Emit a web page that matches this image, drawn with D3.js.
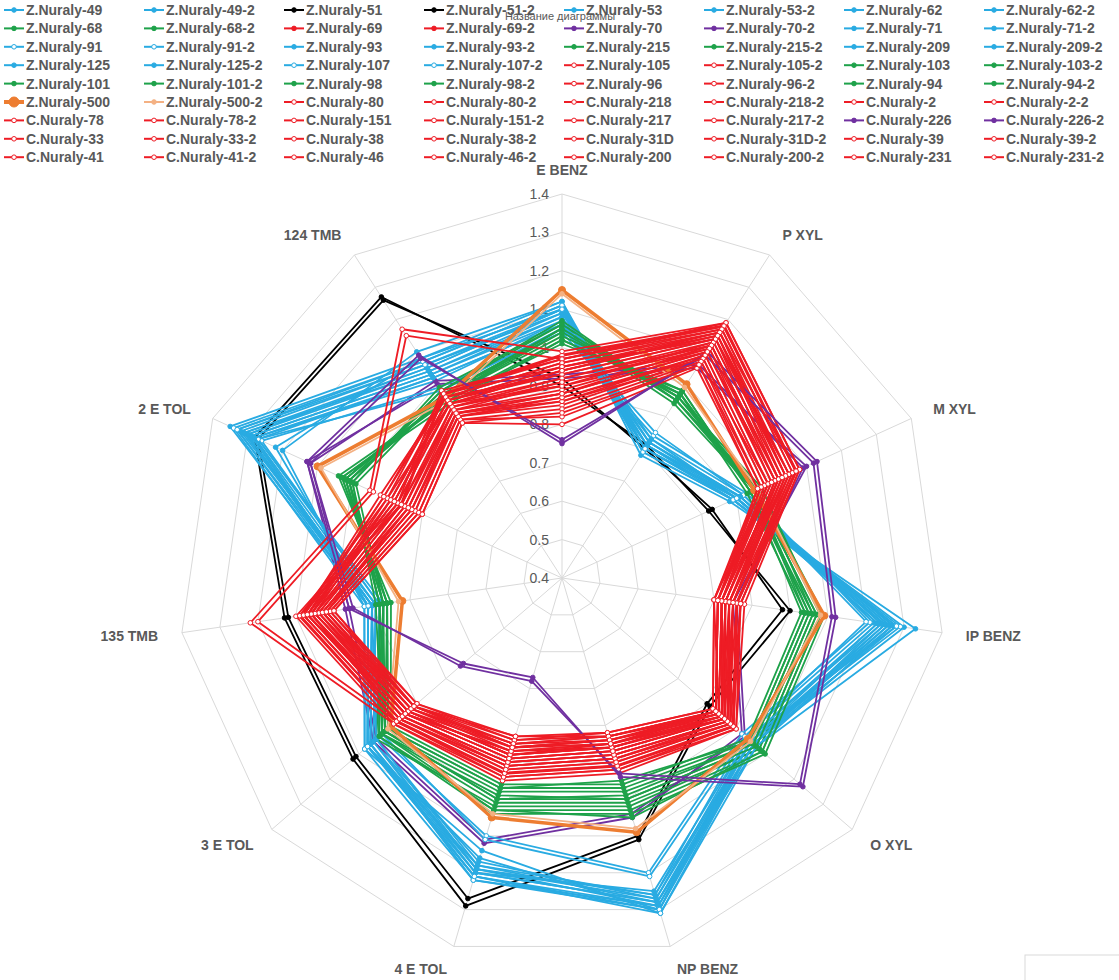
<!DOCTYPE html>
<html>
<head>
<meta charset="utf-8">
<script src="https://cdn.jsdelivr.net/npm/d3@7"></script>
<style>
body{margin:0;background:#fff;}
text{font-family:"Liberation Sans",Arial,sans-serif;}
</style>
</head>
<body>
<svg id="chart" width="1119" height="980"></svg>
<script>
// axes, clockwise from top
var axes = ["E BENZ","P XYL","M XYL","IP BENZ","O XYL","NP BENZ","4 E TOL","3 E TOL","135 TMB","2 E TOL","124 TMB"];
var ticks = [0.4,0.5,0.6,0.7,0.8,0.9,1.0,1.1,1.2,1.3,1.4];

var seriesNames = [
 "Z.Nuraly-49","Z.Nuraly-49-2","Z.Nuraly-51","Z.Nuraly-51-2","Z.Nuraly-53","Z.Nuraly-53-2","Z.Nuraly-62","Z.Nuraly-62-2",
 "Z.Nuraly-68","Z.Nuraly-68-2","Z.Nuraly-69","Z.Nuraly-69-2","Z.Nuraly-70","Z.Nuraly-70-2","Z.Nuraly-71","Z.Nuraly-71-2",
 "Z.Nuraly-91","Z.Nuraly-91-2","Z.Nuraly-93","Z.Nuraly-93-2","Z.Nuraly-215","Z.Nuraly-215-2","Z.Nuraly-209","Z.Nuraly-209-2",
 "Z.Nuraly-125","Z.Nuraly-125-2","Z.Nuraly-107","Z.Nuraly-107-2","Z.Nuraly-105","Z.Nuraly-105-2","Z.Nuraly-103","Z.Nuraly-103-2",
 "Z.Nuraly-101","Z.Nuraly-101-2","Z.Nuraly-98","Z.Nuraly-98-2","Z.Nuraly-96","Z.Nuraly-96-2","Z.Nuraly-94","Z.Nuraly-94-2",
 "Z.Nuraly-500","Z.Nuraly-500-2","C.Nuraly-80","C.Nuraly-80-2","C.Nuraly-218","C.Nuraly-218-2","C.Nuraly-2","C.Nuraly-2-2",
 "C.Nuraly-78","C.Nuraly-78-2","C.Nuraly-151","C.Nuraly-151-2","C.Nuraly-217","C.Nuraly-217-2","C.Nuraly-226","C.Nuraly-226-2",
 "C.Nuraly-33","C.Nuraly-33-2","C.Nuraly-38","C.Nuraly-38-2","C.Nuraly-31D","C.Nuraly-31D-2","C.Nuraly-39","C.Nuraly-39-2",
 "C.Nuraly-41","C.Nuraly-41-2","C.Nuraly-46","C.Nuraly-46-2","C.Nuraly-200","C.Nuraly-200-2","C.Nuraly-231","C.Nuraly-231-2"
];

// colour group per series (b blue, k black, g green, r red, p purple, o orange, l light orange)
var seriesGroup = [
 "b","b","k","k","b","b","b","b",
 "g","g","r","r","p","p","b","b",
 "b","b","b","b","g","g","b","b",
 "b","b","b","b","r","r","g","g",
 "g","g","g","g","r","r","g","g",
 "o","l","r","r","r","r","r","r",
 "r","r","r","r","r","r","p","p",
 "r","r","r","r","r","r","r","r",
 "r","r","r","r","r","r","r","r"
];

var values = [
 [1.10,0.82,0.90,1.25,1.05,1.28,1.20,1.06,0.90,1.30,1.05],
 [1.09,0.81,0.91,1.24,1.06,1.29,1.19,1.05,0.89,1.31,1.04],
 [0.90,0.81,0.82,1.00,0.91,1.11,1.29,1.12,1.13,1.28,1.27],
 [0.92,0.80,0.83,0.98,0.90,1.10,1.27,1.11,1.12,1.27,1.26],
 [1.12,0.80,0.89,1.28,1.04,1.30,1.21,1.07,0.91,1.35,1.08],
 [1.11,0.81,0.90,1.27,1.05,1.29,1.22,1.06,0.90,1.33,1.07],
 [1.06,0.83,0.92,1.22,1.03,1.26,1.18,1.04,0.88,1.27,1.02],
 [1.07,0.82,0.91,1.23,1.04,1.27,1.17,1.05,0.89,1.28,1.01],

 [1.05,0.96,0.95,1.07,1.08,1.01,1.01,1.02,0.87,1.02,0.97],
 [1.04,0.97,0.94,1.06,1.07,1.00,1.00,1.01,0.86,1.01,0.96],
 [0.88,1.12,1.02,0.82,0.95,0.85,0.88,0.93,1.05,0.84,0.92],
 [0.90,1.10,1.01,0.83,0.96,0.86,0.87,0.94,1.04,0.85,0.93],
 [0.92,1.05,1.10,0.85,1.02,1.05,1.12,1.05,0.97,1.13,1.00],
 [0.93,1.06,1.09,0.86,1.03,1.04,1.11,1.04,0.96,1.12,1.01],
 [1.12,0.78,0.88,1.33,1.07,1.31,1.14,1.08,0.92,1.20,1.10],
 [1.10,0.79,0.89,1.30,1.06,1.30,1.16,1.07,0.91,1.22,1.08],

 [1.04,0.84,0.93,1.21,1.02,1.20,1.10,1.03,0.88,1.26,0.99],
 [1.05,0.85,0.92,1.20,1.03,1.21,1.11,1.02,0.87,1.27,0.98],
 [1.08,0.80,0.90,1.26,1.05,1.27,1.19,1.06,0.90,1.29,1.03],
 [1.08,0.81,0.89,1.25,1.06,1.28,1.18,1.07,0.91,1.30,1.04],
 [1.06,0.95,0.96,1.08,1.09,1.03,1.03,1.03,0.88,1.00,0.98],
 [1.05,0.94,0.95,1.07,1.08,1.02,1.02,1.04,0.87,0.99,0.97],
 [1.09,0.82,0.91,1.24,1.04,1.25,1.20,1.05,0.89,1.32,1.06],
 [1.10,0.83,0.90,1.23,1.05,1.26,1.19,1.04,0.90,1.31,1.05],

 [1.07,0.80,0.90,1.26,1.06,1.29,1.21,1.06,0.90,1.29,1.03],
 [1.06,0.81,0.91,1.27,1.07,1.28,1.20,1.07,0.91,1.28,1.02],
 [1.11,0.79,0.89,1.29,1.05,1.30,1.22,1.08,0.92,1.34,1.07],
 [1.10,0.80,0.90,1.28,1.06,1.31,1.21,1.07,0.91,1.33,1.06],
 [0.95,1.15,1.05,0.84,0.97,0.88,0.90,0.95,1.07,0.88,0.95],
 [0.94,1.16,1.04,0.85,0.98,0.89,0.91,0.96,1.06,0.87,0.94],
 [1.02,0.97,0.93,1.04,1.05,0.97,0.97,1.00,0.86,1.03,0.95],
 [1.03,0.98,0.94,1.05,1.06,0.98,0.98,1.01,0.87,1.02,0.96],

 [1.07,0.95,0.96,1.09,1.10,1.04,1.04,1.03,0.88,1.01,0.98],
 [1.06,0.96,0.97,1.08,1.09,1.05,1.03,1.02,0.89,1.00,0.99],
 [1.01,0.98,0.94,1.03,1.04,0.96,0.96,0.99,0.85,1.04,0.95],
 [1.02,0.97,0.95,1.04,1.05,0.95,0.97,1.00,0.86,1.03,0.94],
 [0.85,1.08,0.98,0.81,0.93,0.83,0.85,0.91,1.02,0.82,0.90],
 [0.86,1.07,0.99,0.80,0.94,0.84,0.86,0.92,1.03,0.83,0.91],
 [1.04,0.96,0.96,1.06,1.07,1.00,0.99,1.02,0.87,1.02,0.97],
 [1.05,0.95,0.95,1.05,1.06,0.99,1.00,1.01,0.88,1.01,0.96],

 [1.15,1.00,0.95,1.09,1.04,1.09,1.05,0.99,0.82,1.10,0.96],
 [1.14,0.99,0.96,1.08,1.05,1.08,1.04,1.00,0.83,1.09,0.95],
 [0.98,1.18,1.07,0.86,0.99,0.91,0.93,0.97,1.09,0.86,0.97],
 [0.97,1.19,1.08,0.87,1.00,0.92,0.94,0.98,1.10,0.87,0.98],
 [0.92,1.13,1.03,0.83,0.96,0.87,0.89,0.94,1.06,0.90,0.94],
 [0.93,1.14,1.02,0.84,0.95,0.86,0.88,0.93,1.05,0.89,0.95],
 [0.80,1.05,0.96,0.80,0.92,0.82,0.83,0.90,1.00,0.80,0.88],
 [0.82,1.06,0.97,0.81,0.93,0.83,0.84,0.91,1.01,0.81,0.89],

 [0.96,1.17,1.06,0.85,0.98,0.90,0.92,0.96,1.08,0.92,0.96],
 [0.95,1.16,1.05,0.86,0.97,0.89,0.91,0.95,1.07,0.91,0.97],
 [0.89,1.11,1.00,0.82,0.94,0.85,0.87,0.92,1.04,0.85,0.92],
 [0.88,1.10,1.01,0.83,0.95,0.84,0.86,0.93,1.03,0.84,0.91],
 [0.99,1.19,1.08,0.88,1.00,0.93,0.95,0.98,1.22,0.95,1.17],
 [0.97,1.18,1.07,0.87,0.99,0.92,0.94,0.97,1.20,0.94,1.15],
 [0.75,1.10,1.13,1.12,1.23,0.94,0.67,0.74,0.96,1.13,1.09],
 [0.76,1.09,1.12,1.11,1.22,0.93,0.68,0.75,0.95,1.12,1.08],

 [0.91,1.12,1.02,0.83,0.95,0.86,0.88,0.93,1.05,0.86,0.93],
 [0.90,1.13,1.03,0.84,0.96,0.87,0.89,0.94,1.06,0.87,0.94],
 [0.86,1.09,0.99,0.81,0.93,0.84,0.86,0.91,1.03,0.83,0.90],
 [0.87,1.08,0.98,0.82,0.94,0.83,0.85,0.92,1.02,0.82,0.91],
 [0.94,1.15,1.04,0.85,0.97,0.88,0.90,0.95,1.07,0.88,0.95],
 [0.93,1.14,1.05,0.84,0.98,0.89,0.91,0.96,1.08,0.89,0.96],
 [0.84,1.07,0.97,0.80,0.92,0.82,0.84,0.90,1.01,0.81,0.89],
 [0.83,1.06,0.96,0.81,0.93,0.83,0.83,0.91,1.00,0.80,0.88],

 [0.97,1.17,1.06,0.86,0.99,0.91,0.93,0.97,1.09,0.90,0.97],
 [0.96,1.16,1.07,0.87,0.98,0.90,0.92,0.96,1.08,0.91,0.96],
 [0.92,1.12,1.01,0.83,0.95,0.86,0.88,0.93,1.04,0.85,0.93],
 [0.91,1.11,1.02,0.82,0.96,0.85,0.87,0.94,1.05,0.86,0.92],
 [0.87,1.09,0.99,0.82,0.94,0.84,0.85,0.92,1.03,0.83,0.90],
 [0.88,1.10,1.00,0.81,0.93,0.85,0.86,0.91,1.02,0.84,0.91],
 [0.95,1.14,1.04,0.84,0.97,0.88,0.90,0.95,1.06,0.89,0.95],
 [0.94,1.15,1.03,0.85,0.96,0.87,0.89,0.94,1.07,0.88,0.94]
];

var groupColor = {b:"#29abe2",k:"#000000",g:"#1ea24a",r:"#ee1c25",p:"#7030a0",o:"#ed7d31",l:"#f4b183"};

var svg = d3.select("#chart");
var cx = 562, cy = 578, R = 384;
var r = d3.scaleLinear().domain([0.4,1.4]).range([0,R]);
var ang = d3.scaleLinear().domain([0,axes.length]).range([0,2*Math.PI]);

function pt(i,v){ var a=ang(i); return [cx+r(v)*Math.sin(a), cy-r(v)*Math.cos(a)]; }

var g = svg.append("g");

// grid rings
ticks.forEach(function(t){
	if(t==0.4) return;
	g.append("polygon")
		.attr("points",axes.map(function(d,i){return pt(i,t).join(",");}).join(" "))
		.attr("fill","none").attr("stroke","#d9d9d9").attr("stroke-width",1);
});
// spokes
axes.forEach(function(d,i){
	var p=pt(i,1.4);
	g.append("line").attr("x1",cx).attr("y1",cy).attr("x2",p[0]).attr("y2",p[1])
		.attr("stroke","#d9d9d9").attr("stroke-width",1);
});

// axis labels
axes.forEach(function(d,i){
	var a=ang(i), s=Math.sin(a), c=Math.cos(a);
	var x=cx+(R+24)*s, y=cy-(R+24)*c;
	var anchor = s>0.1 ? "start" : (s<-0.1 ? "end" : "middle");
	g.append("text").attr("x",x).attr("y",y+5).attr("text-anchor",anchor)
		.attr("font-size",14).attr("font-weight","bold").attr("fill","#595959").text(d);
});

// tick labels
ticks.forEach(function(t){
	g.append("text").attr("x",cx-13).attr("y",cy-r(t)+5).attr("text-anchor","end")
		.attr("font-size",14).attr("fill","#595959").text(String(+t.toFixed(1)));
});

function lineW(i){ var n=seriesNames[i]; return n=="Z.Nuraly-500"?3.5:(n=="C.Nuraly-80"?3:1.8); }
function hollow(i){ var n=seriesNames[i]; return seriesGroup[i]=="r" && n.indexOf("C.")==0 || n.indexOf("-105")>0 || n.indexOf("-96")>0 || n.indexOf("-107")>0 || n.indexOf("-91")>0; }

// series
values.forEach(function(vals,i){
	var col=groupColor[seriesGroup[i]];
	var s=g.append("g");
	s.append("polygon")
		.attr("points",vals.map(function(v,k){return pt(k,v).join(",");}).join(" "))
		.attr("fill","none").attr("stroke",col).attr("stroke-width",lineW(i)).attr("stroke-linejoin","round");
	s.selectAll("circle").data(vals).enter().append("circle")
		.attr("cx",function(v,k){return pt(k,v)[0];})
		.attr("cy",function(v,k){return pt(k,v)[1];})
		.attr("r",lineW(i)>3?3.5:2.3)
		.attr("fill",hollow(i)?"#fff":col).attr("stroke",col).attr("stroke-width",1);
});

// legend
var leg = svg.append("g");
seriesNames.forEach(function(n,i){
	var col=groupColor[seriesGroup[i]];
	var x=4+(i%8)*140, y=10+Math.floor(i/8)*18.4;
	leg.append("line").attr("x1",x).attr("x2",x+20).attr("y1",y).attr("y2",y)
		.attr("stroke",col).attr("stroke-width",lineW(i)>3?4:2);
	leg.append("circle").attr("cx",x+10).attr("cy",y).attr("r",lineW(i)>3?5:2.3)
		.attr("fill",hollow(i)?"#fff":col).attr("stroke",col);
	leg.append("text").attr("x",x+22).attr("y",y+5).attr("font-size",14)
		.attr("font-weight","bold").attr("fill","#595959").text(n);
});

// title
svg.append("text").attr("x",560).attr("y",20).attr("text-anchor","middle")
	.attr("font-size",11).attr("fill","#595959").text("Название диаграммы");

svg.append("rect").attr("x",1025).attr("y",955).attr("width",100).attr("height",30)
	.attr("fill","#fff").attr("stroke","#d9d9d9");
</script>
</body>
</html>
